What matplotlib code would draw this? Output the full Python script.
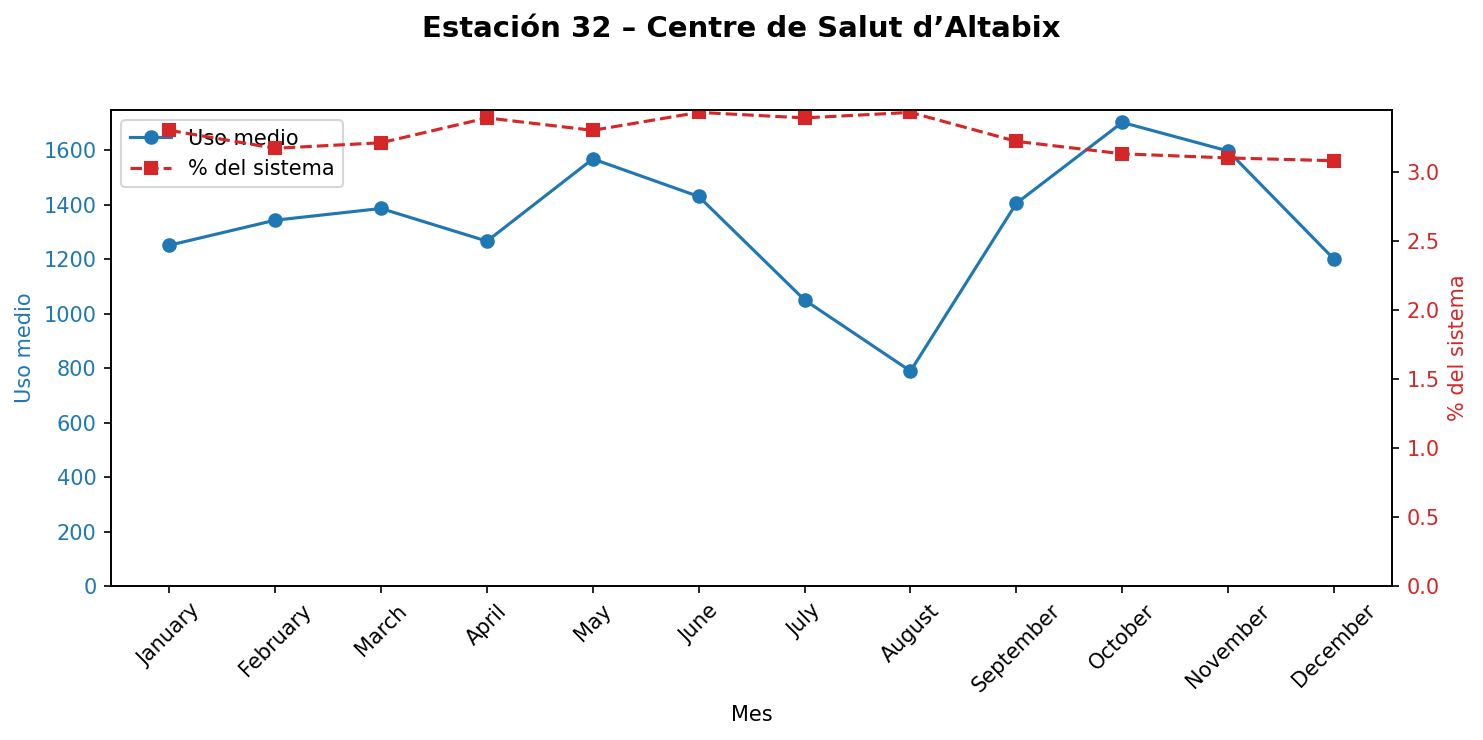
import matplotlib.pyplot as plt

months = ["January", "February", "March", "April", "May", "June",
          "July", "August", "September", "October", "November", "December"]
uso_medio = [1251, 1343, 1386, 1266, 1568, 1430, 1050, 789, 1405, 1702, 1597, 1200]
pct_sistema = [3.30, 3.17, 3.21, 3.39, 3.30, 3.43, 3.39, 3.43, 3.22, 3.13, 3.10, 3.08]

fig, ax1 = plt.subplots(figsize=(1483 / 150, 740 / 150), dpi=150)
fig.subplots_adjust(left=0.0749, right=0.9388, top=0.8514, bottom=0.2081)

blue = "tab:blue"
red = "tab:red"

l1, = ax1.plot(months, uso_medio, marker="o", color=blue, label="Uso medio")
ax1.set_ylim(bottom=0)
ax1.set_ylabel("Uso medio", color=blue)
ax1.tick_params(axis="y", labelcolor=blue)
ax1.set_xlabel("Mes")
ax1.tick_params(axis="x", rotation=45)

ax2 = ax1.twinx()
l2, = ax2.plot(months, pct_sistema, marker="s", linestyle="--", color=red, label="% del sistema")
ax2.set_ylim(bottom=0)
ax2.set_ylabel("% del sistema", color=red)
ax2.tick_params(axis="y", labelcolor=red)

ax1.legend(handles=[l1, l2], loc="upper left")
fig.suptitle("Estación 32 – Centre de Salut d’Altabix", fontsize=14, fontweight="bold")

fig.savefig("out.png", dpi=150)
